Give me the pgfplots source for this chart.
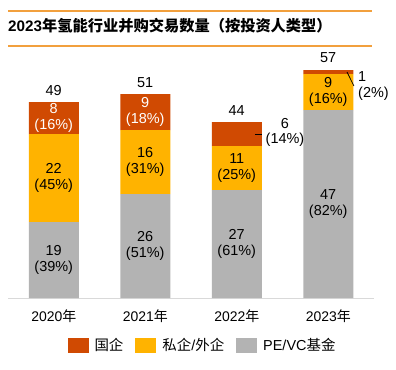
\documentclass[border=0pt]{standalone}
\usepackage{pgfplots}
\pgfplotsset{compat=1.18}
\usepackage{fontspec}
\setmainfont{Liberation Sans}
\newfontfamily\cjk{Noto Sans CJK SC}
\definecolor{cRed}{HTML}{D04A02}
\definecolor{cYel}{HTML}{FFB300}
\definecolor{cGray}{HTML}{B3B3B3}
\definecolor{cOrg}{HTML}{F2A03D}
\newcommand{\lab}{\fontsize{14.5}{15.5}\selectfont}
\begin{document}
\begin{tikzpicture}[x=1bp,y=1bp]
\useasboundingbox (0,0) rectangle (396,-370);
\draw[cOrg, line width=1.3bp] (8,-11) -- (372,-11);
\draw[cOrg, line width=1.3bp] (8,-46) -- (372,-46);
\node[anchor=west, inner sep=0pt, font=\fontsize{15.3}{16}\selectfont\bfseries] at (8,-26) {2023{\cjk\bfseries 年氢能行业并购交易数量（按投资人类型）}};
\begin{axis}[
  at={(8bp,-298bp)}, anchor=south west,
  scale only axis, width=366bp, height=240bp,
  xmin=-0.5, xmax=3.5, ymin=0, ymax=60,
  ybar stacked, bar width=50bp,
  clip=false,
  axis y line=none, axis x line*=bottom,
  x axis line style={draw=black!15, line width=0.8bp, -},
  xtick={0,1,2,3},
  xticklabels={2020{\cjk 年},2021{\cjk 年},2022{\cjk 年},2023{\cjk 年}},
  major tick length=0pt,
  xticklabel style={font=\fontsize{14}{15}\selectfont, anchor=center, yshift=-18bp},
  reverse legend,
  legend columns=3,
  legend style={at={(0.5287,-0.196)}, anchor=center, draw=none,
    font=\fontsize{14.5}{16}\selectfont,
    nodes={inner sep=0pt},
    /tikz/every odd column/.append style={column sep=6bp},
    /tikz/every even column/.append style={column sep=12bp}},
]
\addplot[fill=cGray, draw=none, legend image code/.code={\fill[cGray] (0bp,-7.5bp) rectangle (21bp,7.5bp);}] coordinates {(0,19) (1,26) (2,27) (3,47)};
\addplot[fill=cYel, draw=none, legend image code/.code={\fill[cYel] (0bp,-7.5bp) rectangle (21bp,7.5bp);}] coordinates {(0,22) (1,16) (2,11) (3,9)};
\addplot[fill=cRed, draw=none, legend image code/.code={\fill[cRed] (0bp,-7.5bp) rectangle (21bp,7.5bp);}] coordinates {(0,8) (1,9) (2,6) (3,1)};
\legend{PE/VC{\cjk 基金},{\cjk 私企}/{\cjk 外企},{\cjk 国企}}
\coordinate (g0) at (axis cs:0,9.5);
\coordinate (y0) at (axis cs:0,30);
\coordinate (r0) at (axis cs:0,45);
\coordinate (t0) at (axis cs:0,51.75);
\coordinate (g1) at (axis cs:1,13);
\coordinate (y1) at (axis cs:1,34);
\coordinate (r1) at (axis cs:1,46.5);
\coordinate (t1) at (axis cs:1,53.8);
\coordinate (g2) at (axis cs:2,13.5);
\coordinate (y2) at (axis cs:2,32.5);
\coordinate (r2) at (axis cs:2.527,41.4);
\coordinate (t2) at (axis cs:2,46.8);
\coordinate (l2a) at (axis cs:2.199,41);
\coordinate (l2b) at (axis cs:2.276,41);
\coordinate (g3) at (axis cs:3,23.5);
\coordinate (y3) at (axis cs:3,51.5);
\coordinate (r3) at (axis cs:3.325,53);
\coordinate (t3) at (axis cs:3,60);
\coordinate (l3a) at (axis cs:3.205,56.5);
\coordinate (l3b) at (axis cs:3.281,53);
\end{axis}
\node[align=center, font=\lab] at (g0) {19\\(39\%)};
\node[align=center, font=\lab] at (y0) {22\\(45\%)};
\node[align=center, font=\lab, text=white] at (r0) {8\\(16\%)};
\node[font=\lab] at (t0) {49};
\node[align=center, font=\lab] at (g1) {26\\(51\%)};
\node[align=center, font=\lab] at (y1) {16\\(31\%)};
\node[align=center, font=\lab, text=white] at (r1) {9\\(18\%)};
\node[font=\lab] at (t1) {51};
\node[align=center, font=\lab] at (g2) {27\\(61\%)};
\node[align=center, font=\lab] at (y2) {11\\(25\%)};
\node[font=\lab] at (t2) {44};
\node[align=center, font=\lab] at (r2) {6\\(14\%)};
\draw[black, line width=0.7bp] (l2a) -- (l2b);
\node[align=center, font=\lab] at (g3) {47\\(82\%)};
\node[align=center, font=\lab] at (y3) {9\\(16\%)};
\node[font=\lab] at (t3) {57};
\node[align=left, anchor=west, inner sep=0pt, font=\lab] at (r3) {1\\(2\%)};
\draw[black, line width=0.7bp] (l3a) -- (l3b);
\end{tikzpicture}
\end{document}
